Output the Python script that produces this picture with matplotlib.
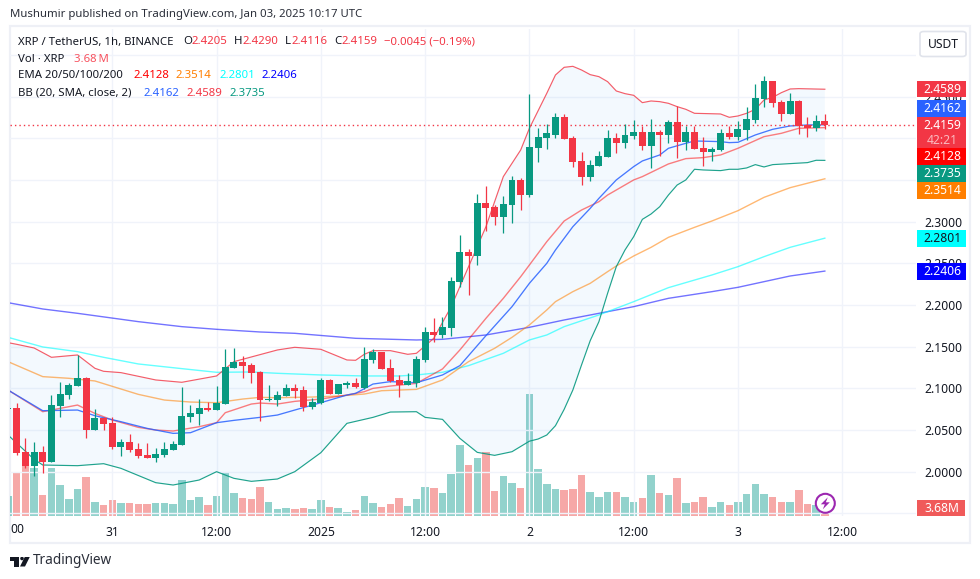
import numpy as np
import matplotlib
matplotlib.use("Agg")
import matplotlib.pyplot as plt
from matplotlib.patches import Rectangle, FancyBboxPatch, Circle, Polygon

plt.rcParams['font.family'] = ['Noto Sans', 'DejaVu Sans']

# ---------- data (prices in USDT, volume in millions of XRP) ----------
opens = [2.0750,2.0758,2.0230,2.0066,2.0230,2.0118,2.0786,2.0918,2.1026,2.1123,2.0502,2.0646,2.0578,2.0298,2.0350,2.0266,2.0198,2.0166,2.0198,2.0262,
         2.0322,2.0654,2.0690,2.0762,2.0738,2.0814,2.1243,2.1315,2.1279,2.1195,2.0858,2.0862,2.0910,2.1002,2.0978,2.0774,2.0822,2.1099,2.0930,2.1039,
         2.1063,2.1006,2.1339,2.1439,2.1243,2.1099,2.1039,2.1063,2.1339,2.1675,2.1639,2.1723,2.2275,2.2635,2.2591,2.3223,2.3175,2.3055,2.3199,2.3500,
         2.3319,2.3884,2.4004,2.4040,2.4256,2.4004,2.3728,2.3536,2.3668,2.3776,2.4004,2.3944,2.4028,2.4076,2.3908,2.4076,2.4040,2.4196,2.3956,2.4076,
         2.3884,2.3836,2.3860,2.4064,2.4016,2.4100,2.4220,2.4472,2.4688,2.4436,2.4292,2.4448,2.4160,2.4124,2.4205]
highs = [2.0765,2.0818,2.0398,2.0350,2.0306,2.0918,2.1075,2.1058,2.1399,2.1131,2.0746,2.0658,2.0658,2.0390,2.0446,2.0338,2.0338,2.0278,2.0358,2.0366,
         2.1010,2.0794,2.0870,2.0830,2.1026,2.1467,2.1479,2.1387,2.1299,2.1207,2.1039,2.0970,2.1050,2.1050,2.1026,2.0878,2.1123,2.1111,2.1050,2.1087,
         2.1119,2.1495,2.1471,2.1439,2.1351,2.1159,2.1183,2.1387,2.1731,2.1843,2.1855,2.2339,2.2839,2.2675,2.3332,2.3428,2.3199,2.3307,2.3548,2.3524,
         2.4532,2.4124,2.4172,2.4304,2.4292,2.4028,2.3836,2.3740,2.3848,2.4100,2.4064,2.4172,2.4220,2.4148,2.4232,2.4100,2.4220,2.4388,2.4148,2.4148,
         2.4016,2.3896,2.4112,2.4148,2.4208,2.4376,2.4652,2.4748,2.4688,2.4460,2.4544,2.4460,2.4256,2.4280,2.4290]
lows = [2.0745,2.0198,2.0038,1.9950,1.9986,2.0118,2.0658,2.0870,2.1026,2.0406,2.0502,2.0498,2.0270,2.0190,2.0230,2.0158,2.0158,2.0118,2.0170,2.0262,
        2.0322,2.0598,2.0558,2.0730,2.0738,2.0814,2.1243,2.1127,2.1058,2.0610,2.0850,2.0790,2.0910,2.0886,2.0726,2.0746,2.0814,2.0930,2.0930,2.1006,
        2.1006,2.0990,2.1307,2.1231,2.1079,2.0898,2.1039,2.1018,2.1315,2.1559,2.1607,2.1631,2.2219,2.2119,2.2479,2.2887,2.2959,2.2863,2.2983,2.3139,
        2.3296,2.3716,2.3872,2.4004,2.3992,2.3656,2.3440,2.3488,2.3668,2.3776,2.3824,2.3884,2.3992,2.3860,2.3644,2.3788,2.3944,2.3764,2.3860,2.3872,
        2.3668,2.3728,2.3848,2.3992,2.3980,2.3980,2.4184,2.4376,2.4376,2.4208,2.4292,2.4052,2.4016,2.4088,2.4116]
closes = [2.0758,2.0226,2.0066,2.0230,2.0114,2.0794,2.0930,2.1039,2.1123,2.0502,2.0638,2.0570,2.0298,2.0350,2.0262,2.0186,2.0166,2.0210,2.0266,2.0330,
          2.0666,2.0698,2.0758,2.0738,2.0818,2.1251,2.1315,2.1271,2.1187,2.0862,2.0866,2.0918,2.1002,2.0966,2.0774,2.0834,2.1099,2.0930,2.1050,2.1063,
          2.1014,2.1351,2.1439,2.1231,2.1087,2.1039,2.1087,2.1351,2.1675,2.1639,2.1735,2.2287,2.2635,2.2591,2.3223,2.3167,2.3055,2.3211,2.3500,2.3319,
          2.3896,2.4016,2.4064,2.4256,2.3992,2.3716,2.3536,2.3680,2.3788,2.4004,2.3944,2.4040,2.4076,2.3908,2.4076,2.4040,2.4196,2.3956,2.4076,2.3872,
          2.3836,2.3872,2.4064,2.4016,2.4112,2.4232,2.4484,2.4688,2.4424,2.4292,2.4448,2.4148,2.4124,2.4208,2.4159]
volumes = [36,78,90,86,38,86,56,31,49,70,25,20,29,23,23,22,22,23,23,22,
           65,29,34,20,36,77,41,32,31,52,25,13,14,13,14,13,29,16,14,7,
           11,36,23,16,22,32,18,31,52,50,41,76,128,92,104,115,45,72,59,50,
           220,85,57,48,46,48,73,44,34,44,43,35,26,32,73,41,37,68,23,25,
           34,17,25,19,25,39,57,39,35,26,25,46,21,19,3.68]

bb_upper_idx = [0,1,3,5,8,10,11,13,17,20,24,26,27,31,33,36,39,40,41,42,44,46,47,49,51,53,55,57,59,60,62,63,64,65,66,67,68,69,70,71,72,73,74,75,76,77,78,79,82,83,84,85,86,87,88,89,90,91,94]
bb_upper = [2.1547,2.1527,2.1483,2.1371,2.1399,2.1239,2.1203,2.1187,2.1099,2.1071,2.1147,2.1319,2.1347,2.1459,2.1491,2.1467,2.1339,2.1335,2.1407,2.1451,2.1451,2.1407,2.1419,2.1599,
            2.1979,2.2459,2.2939,2.3540,2.3860,2.4120,2.4540,2.4760,2.4852,2.4864,2.4820,2.4764,2.4740,2.4680,2.4568,2.4536,2.4516,2.4428,2.4448,2.4440,2.4420,2.4380,2.4348,2.4300,
            2.4292,2.4252,2.4268,2.4300,2.4348,2.4460,2.4492,2.4548,2.4592,2.4596,2.4589]
bb_lower_idx = [0,3,4,8,11,13,17,19,22,24,26,28,31,33,36,39,42,44,47,48,50,52,54,56,58,60,61,62,63,64,65,66,67,68,69,70,71,72,73,74,75,76,77,78,79,80,82,83,84,85,86,87,88,90,92,93,94]
bb_lower = [2.0438,2.0146,2.0078,2.0070,2.0094,2.0038,1.9866,1.9838,1.9898,1.9998,1.9918,1.9882,1.9910,1.9998,2.0226,2.0578,2.0650,2.0714,2.0718,2.0650,2.0626,2.0398,2.0230,2.0194,2.0238,2.0364,2.0390,
            2.0438,2.0550,2.0746,2.0978,2.1279,2.1571,2.1799,2.2139,2.2459,2.2659,2.2819,2.3027,2.3091,2.3179,2.3319,2.3439,2.3500,2.3628,2.3620,2.3612,2.3628,2.3628,2.3644,2.3684,2.3656,2.3684,2.3696,2.3708,2.3736,2.3735]
bb_mid_idx = [0,4,8,10,13,16,19,21,24,26,29,31,33,36,39,40,42,44,47,50,52,55,58,60,62,63,65,67,68,70,72,73,75,76,78,79,82,83,84,86,88,90,92,94]
bb_mid = [2.0978,2.0730,2.0738,2.0670,2.0598,2.0518,2.0458,2.0466,2.0586,2.0614,2.0650,2.0678,2.0738,2.0826,2.0918,2.0938,2.1050,2.1079,2.1066,2.1159,2.1271,2.1631,
          2.1979,2.2259,2.2499,2.2659,2.2939,2.3159,2.3279,2.3500,2.3660,2.3728,2.3800,2.3880,2.3940,2.3968,2.3960,2.3948,2.3952,2.4040,2.4108,2.4148,2.4160,2.4162]
ema20_idx = [0,4,6,8,10,12,15,17,19,22,24,25,28,29,31,33,36,39,41,42,44,47,50,52,55,57,59,62,64,66,68,69,72,73,76,78,80,82,84,87,89,91,94]
ema20 = [2.0978,2.0718,2.0758,2.0798,2.0698,2.0618,2.0530,2.0498,2.0486,2.0538,2.0586,2.0706,2.0810,2.0822,2.0810,2.0842,2.0870,2.0918,2.0958,2.0998,2.1026,2.1058,2.1231,2.1459,2.1839,2.2079,
         2.2339,2.2759,2.3007,2.3139,2.3239,2.3319,2.3500,2.3540,2.3692,2.3756,2.3768,2.3800,2.3880,2.4020,2.4060,2.4120,2.4128]
ema50_idx = [0,4,7,10,15,18,21,24,27,29,31,35,38,41,43,45,47,50,53,56,58,60,62,63,65,67,69,70,72,74,76,79,81,84,87,90,94]
ema50 = [2.1319,2.1139,2.1119,2.1087,2.0926,2.0858,2.0834,2.0826,2.0870,2.0890,2.0886,2.0894,2.0906,2.0930,2.0970,2.0978,2.0986,2.1099,2.1319,2.1479,
         2.1611,2.1759,2.1939,2.2039,2.2159,2.2259,2.2399,2.2467,2.2587,2.2691,2.2811,2.2931,2.3007,2.3131,2.3291,2.3407,2.3514]
ema100_idx = [0,4,8,11,15,20,24,28,31,36,41,45,47,50,53,57,60,62,64,68,72,76,81,84,87,90,94]
ema100 = [2.1611,2.1495,2.1439,2.1371,2.1291,2.1235,2.1191,2.1195,2.1179,2.1159,2.1147,2.1147,2.1159,2.1191,2.1271,2.1419,2.1579,2.1639,2.1739,2.1879,2.2039,2.2207,2.2359,2.2459,2.2579,2.2691,2.2801]
ema200_idx = [0,4,8,15,20,24,29,33,40,47,50,55,60,64,68,72,76,81,84,87,90,94]
ema200 = [2.2027,2.1951,2.1899,2.1799,2.1739,2.1707,2.1675,2.1659,2.1599,2.1579,2.1587,2.1639,2.1731,2.1819,2.1899,2.1979,2.2079,2.2159,2.2211,2.2279,2.2347,2.2406]

price_ticks = [1.95,2.00,2.05,2.10,2.15,2.20,2.25,2.30,2.35,2.40,2.45,2.50]
price_tick_labels = ["","2.0000","2.0500","2.1000","2.1500","2.2000","2.2500","2.3000","","","2.4500",""]
time_ticks = [12,24,36,48,60,72,84,96]
time_labels = ["31","12:00","2025","12:00","2","12:00","3","12:00"]

UP, DOWN = "#089981", "#f23645"
W, H = 980, 579
def fx(x): return x / W
def fy(y): return 1 - y / H

fig = plt.figure(figsize=(9.8, 5.79), dpi=100, facecolor="white")

# chart frame
fig.add_artist(Rectangle((fx(9.5), fy(543)), 960 / W, 517 / H, transform=fig.transFigure,
                         fc="none", ec="#eef0f6", lw=1.6, zorder=-1))

L, R, T, B = 10, 916, 29, 516
axv = fig.add_axes([fx(L), fy(B), (R - L) / W, (B - T) / H])
ax = fig.add_axes([fx(L), fy(B), (R - L) / W, (B - T) / H])
ax.patch.set_visible(False)
axv.patch.set_visible(False)
xlim = (0.23, 104.49)
ylim = (1.9466, 2.5312)
ax.set_xlim(xlim); ax.set_ylim(ylim)
axv.set_xlim(xlim); axv.set_ylim(0, 876.6)
axv.axis("off")
for s in ax.spines.values():
    s.set_visible(False)

ax.set_yticks(price_ticks)
ax.set_yticklabels(price_tick_labels, fontsize=8.7, color="#131722")
ax.yaxis.tick_right()
ax.tick_params(axis="y", length=0, pad=6.3)
ax.set_xticks(time_ticks)
ax.set_xticklabels(time_labels, fontsize=8.7, color="#131722")
ax.tick_params(axis="x", length=0, pad=7)
for lab in ax.get_xticklabels():
    if lab.get_text() == "2025":
        lab.set_fontweight("bold")
ax.grid(True, color="#f0f3fa", lw=1)
ax.set_axisbelow(True)
ax.text(0.23, -0.0285, "00", transform=ax.get_xaxis_transform(), fontsize=8.7, color="#131722",
        ha="left", va="center")

x = np.arange(len(closes))
o, h, l, c = map(np.array, (opens, highs, lows, closes))
up = c >= o
colors = np.where(up, UP, DOWN)

# volume
axv.bar(x[up], np.array(volumes)[up], width=0.86, color="#26a69a", alpha=0.5, lw=0)
axv.bar(x[~up], np.array(volumes)[~up], width=0.86, color="#ef5350", alpha=0.5, lw=0)

# Bollinger band fill + lines
ax.fill(np.r_[bb_upper_idx, bb_lower_idx[::-1]], np.r_[bb_upper, bb_lower[::-1]],
        color="#2196f3", alpha=0.05, lw=0, zorder=1)
ax.plot(ema200_idx, ema200, color="#0000ff", alpha=0.55, lw=1.0, zorder=2)
ax.plot(ema100_idx, ema100, color="#00ffff", alpha=0.6, lw=1.0, zorder=2)
ax.plot(ema50_idx, ema50, color="#ff7f00", alpha=0.55, lw=1.0, zorder=2)
ax.plot(ema20_idx, ema20, color="#ff0000", alpha=0.5, lw=1.0, zorder=2)
ax.plot(bb_mid_idx, bb_mid, color="#2962ff", alpha=0.85, lw=0.95, zorder=2)
ax.plot(bb_upper_idx, bb_upper, color="#f23645", alpha=0.8, lw=0.85, zorder=2)
ax.plot(bb_lower_idx, bb_lower, color="#089981", alpha=0.9, lw=0.85, zorder=2)

# candles
ax.vlines(x, l, h, colors=colors, lw=0.9, zorder=3)
ax.bar(x, np.abs(c - o), bottom=np.minimum(o, c), width=0.8, color=colors, lw=0, zorder=4)

# last price line
ax.plot(xlim, [closes[-1], closes[-1]], color=DOWN, lw=1, ls=(0, (1, 2.2)), zorder=2)

def txt(xp, yp, s, **kw):
    kw.setdefault("fontsize", 8.2)
    kw.setdefault("va", "center")
    kw.setdefault("color", "#131722")
    return fig.text(fx(xp), fy(yp), s, **kw)

txt(10, 15, "Mushumir published on TradingView.com, Jan 03, 2025 10:17 UTC", color="#2a2e39")

red = "#f23645"
legend = [
    (42, [(18, "XRP / TetherUS, 1h, BINANCE", "#131722"), (183, "O", "#131722"), (191, "2.4205", red),
          (234, "H", "#131722"), (242, "2.4290", red), (285, "L", "#131722"), (291, "2.4116", red),
          (334, "C", "#131722"), (341, "2.4159", red), (384, "\u22120.0045 (\u22120.19%)", red)]),
    (59, [(18, "Vol \u00b7 XRP", "#131722"), (74, "3.68\u2009M", "#f7525f")]),
    (76, [(18, "EMA 20/50/100/200", "#131722"), (133, "2.4128", "#ff0000"), (176, "2.3514", "#ff7f00"),
          (219, "2.2801", "#00ffff"), (262, "2.2406", "#0000ff")]),
    (93, [(18, "BB (20, SMA, close, 2)", "#131722"), (143, "2.4162", "#2962ff"), (186, "2.4589", red),
          (229, "2.3735", UP)]),
]
for yp, parts in legend:
    for xp, s, col in parts:
        txt(xp, yp, s, color=col)

# USDT button
fig.add_artist(FancyBboxPatch((fx(920), fy(56.5)), 46 / W, 25 / H, transform=fig.transFigure,
                              boxstyle="round,pad=0,rounding_size=0.004", fc="white", ec="#e0e3eb", lw=1.2))
txt(943, 44.5, "USDT", ha="center", fontsize=8.7)

# price scale badges
badges = [
    (81, 97.3, "2.4589", "#f23645", "white"),
    (100, 117, "2.4162", "#2962ff", "white"),
    (148, 165, "2.4128", "#ff0000", "white"),
    (165, 182, "2.3735", "#089981", "white"),
    (182, 199, "2.3514", "#ff7f00", "white"),
    (230, 247, "2.2801", "#00ffff", "#131722"),
    (263, 280, "2.2406", "#0000ff", "white"),
]
for y0, y1, s, fc, tc in badges:
    fig.add_artist(Rectangle((fx(917), fy(y1)), 49 / W, (y1 - y0) / H, transform=fig.transFigure, fc=fc, lw=0, zorder=5))
    txt(942, (y0 + y1) / 2, s, ha="center", color=tc, fontsize=8.7, zorder=6, fontweight="medium")
fig.add_artist(Rectangle((fx(917), fy(148)), 49 / W, 31 / H, transform=fig.transFigure, fc="#f23645", lw=0, zorder=5))
txt(942, 125.5, "2.4159", ha="center", color="white", fontsize=8.7, zorder=6)
txt(942, 140, "42:21", ha="center", color="#fbb9bf", fontsize=8.7, zorder=6)
fig.add_artist(Rectangle((fx(917), fy(516)), 48 / W, 16 / H, transform=fig.transFigure, fc="#f05a5a", lw=0, zorder=5))
txt(941.5, 508, "3.68M", ha="center", color="white", fontsize=8.7, zorder=6)

# lightning badge
ax_ic = fig.add_axes([fx(814.3), fy(514.3), 22 / W, 22 / H])
ax_ic.set_xlim(-11, 11); ax_ic.set_ylim(-11, 11); ax_ic.axis("off"); ax_ic.patch.set_visible(False)
ax_ic.add_patch(Circle((0, 0), 9.5, fc="white", ec="#9c27b0", lw=1.5))
ax_ic.add_patch(Polygon([(2.5, 6), (-4.5, -1), (-0.5, -1), (-2.5, -6), (4.5, 1), (0.5, 1)], fc="#9c27b0", lw=0))

# TradingView logo
ax_lg = fig.add_axes([fx(10), fy(566.5), 20 / W, 10 / H])
ax_lg.set_xlim(0, 20); ax_lg.set_ylim(0, 10); ax_lg.axis("off")
ax_lg.add_patch(Polygon([(0, 10), (9, 10), (9, 0), (4, 0), (4, 6), (0, 6)], fc="#131722", lw=0))
ax_lg.add_patch(Circle((12, 8), 1.8, fc="#131722", lw=0))
ax_lg.add_patch(Polygon([(15, 10), (20, 10), (15, 0), (10, 0)], fc="#131722", lw=0))
txt(33, 561, "TradingView", fontsize=9.8, color="#2a2e39")

fig.savefig("out.png", dpi=100)
